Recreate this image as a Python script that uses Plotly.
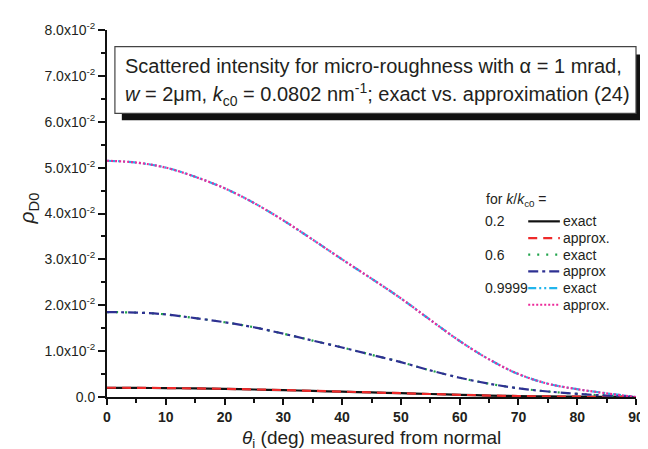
import plotly.graph_objects as go

# ---- data ----
theta_deg = [0, 5, 10, 15, 20, 25, 30, 35, 40, 45, 50, 55, 60, 65, 70, 75, 80, 85, 90]

k02_exact = [0.00200, 0.00198, 0.00194, 0.00186, 0.00177, 0.00164, 0.00150, 0.00133, 0.00116,
             0.00100, 0.00083, 0.00065, 0.00047, 0.00032, 0.00020, 0.00012, 0.00007, 0.00003, 0.0]
k02_approx = [0.00202, 0.00200, 0.00195, 0.00187, 0.00178, 0.00165, 0.00151, 0.00134, 0.00117,
              0.00100, 0.00083, 0.00065, 0.00047, 0.00032, 0.00020, 0.00012, 0.00007, 0.00003, 0.0]

k06_exact = [0.0185, 0.0184, 0.0180, 0.0172, 0.0163, 0.0152, 0.0138, 0.0123, 0.0108,
             0.0092, 0.0076, 0.0058, 0.0042, 0.0029, 0.0019, 0.0012, 0.0007, 0.0003, 0.0]
k06_approx = [0.0185, 0.0184, 0.0180, 0.0172, 0.0163, 0.0152, 0.0138, 0.0123, 0.0108,
              0.0092, 0.0076, 0.0058, 0.0042, 0.0029, 0.0019, 0.0012, 0.0007, 0.0003, 0.0]

k09999_exact = [0.0515, 0.0511, 0.0500, 0.0480, 0.0455, 0.0423, 0.0385, 0.0343, 0.0300,
                0.0258, 0.0215, 0.0168, 0.0122, 0.0082, 0.0050, 0.0029, 0.0017, 0.0008, 0.0]
k09999_approx = [0.0515, 0.0511, 0.0500, 0.0480, 0.0455, 0.0423, 0.0385, 0.0343, 0.0300,
                 0.0258, 0.0215, 0.0168, 0.0122, 0.0082, 0.0050, 0.0029, 0.0017, 0.0008, 0.0]

y_tickvals = [0.0, 0.01, 0.02, 0.03, 0.04, 0.05, 0.06, 0.07, 0.08]
y_ticktext = ["0.0"] + ["%d.0x10<sup>-2</sup>" % i for i in range(1, 9)]
x_tickvals = [0, 10, 20, 30, 40, 50, 60, 70, 80, 90]

legend_groups = ["0.2", "0.6", "0.9999"]
legend_entries = ["exact", "approx.", "exact", "approx", "exact", "approx."]

# ---- styles ----
C_TEXT = "#231f20"
C_BLACK = "#111111"
C_RED = "#ee2a2a"
C_GREEN = "#1fa34a"
C_NAVY = "#2e3192"
C_CYAN = "#22b5ec"
C_PINK = "#ec2a9a"

styles = [
    (k02_exact, C_BLACK, "solid"),
    (k02_approx, C_RED, "9px,6px"),
    (k06_exact, C_GREEN, "2px,7px"),
    (k06_approx, C_NAVY, "10px,4px,3px,4px"),
    (k09999_exact, C_CYAN, "8px,3px,2px,3px,2px,3px"),
    (k09999_approx, C_PINK, "2px,2px"),
]

FONT = "Liberation Sans, Arial, sans-serif"

fig = go.Figure()
# draw exact first, then approx on top
order = [0, 2, 4, 1, 3, 5]
for i in order:
    ys, col, dash = styles[i]
    fig.add_trace(go.Scatter(x=theta_deg, y=ys, mode="lines", line_shape="spline",
                             line=dict(color=col, width=2.2, dash=dash),
                             showlegend=False, hoverinfo="skip"))

W, H = 648, 449
L, R, T, B = 99, 634, 15, 389


def xp(px):
    return (px - L) / (R - L)


def yp(py):
    return (B - py) / (B - T)


fig.update_layout(
    width=W, height=H,
    margin=dict(l=L, r=W - R, t=T, b=H - B, pad=0),
    paper_bgcolor="white", plot_bgcolor="white",
    font=dict(family=FONT, color=C_TEXT),
    xaxis=dict(range=[0, 90], tickvals=x_tickvals, showgrid=False, zeroline=False,
               showline=True, linecolor=C_BLACK, linewidth=2, ticks="outside", ticklen=6,
               tickwidth=1.5, tickcolor=C_BLACK,
               tickfont=dict(size=14, family=FONT, color=C_TEXT, weight="bold"),
               minor=dict(dtick=5, ticks="outside", ticklen=4, tickwidth=1.5, tickcolor=C_BLACK)),
    yaxis=dict(range=[0, 0.08], tickvals=y_tickvals, ticktext=y_ticktext, showgrid=False,
               zeroline=False, showline=True, linecolor=C_BLACK, linewidth=2, ticks="outside",
               ticklen=7, tickwidth=1.5, tickcolor=C_BLACK,
               tickfont=dict(size=14, family=FONT, color=C_TEXT),
               minor=dict(dtick=0.005, ticks="outside", ticklen=4, tickwidth=1.5,
                          tickcolor=C_BLACK)),
)

shapes = []
annotations = []

# axis titles
annotations.append(dict(x=xp(19), y=yp(197), xref="paper", yref="paper",
                        text="<i>ρ</i><sub>D0</sub>", textangle=-90, showarrow=False,
                        font=dict(size=21, family=FONT, color=C_TEXT),
                        xanchor="center", yanchor="middle"))
annotations.append(dict(x=0.5, y=yp(432), xref="paper", yref="paper",
                        text="<i>θ</i><sub>i</sub> (deg) measured from normal", showarrow=False,
                        font=dict(size=19, family=FONT, color=C_TEXT),
                        xanchor="center", yanchor="middle"))

# title box with shadow
shapes.append(dict(type="rect", xref="paper", yref="paper", x0=xp(114), x1=xp(660),
                   y0=yp(107), y1=yp(40), fillcolor=C_BLACK, line=dict(width=0), layer="above"))
shapes.append(dict(type="rect", xref="paper", yref="paper", x0=xp(107), x1=xp(634),
                   y0=yp(100), y1=yp(32), fillcolor="white",
                   line=dict(color="#444444", width=1.2), layer="above"))
annotations.append(dict(x=xp(115), y=yp(52), xref="paper", yref="paper",
                        text="Scattered intensity for micro-roughness with α = 1 mrad,",
                        showarrow=False, xanchor="left", yanchor="middle",
                        font=dict(size=20, family=FONT, color=C_TEXT)))
annotations.append(dict(x=xp(115), y=yp(81), xref="paper", yref="paper",
                        text="<i>w</i> = 2μm, <i>k</i><sub>c0</sub> = 0.0802 nm<sup>-1</sup>; exact vs. approximation (24)",
                        showarrow=False, xanchor="left", yanchor="middle",
                        font=dict(size=20, family=FONT, color=C_TEXT)))

# custom legend
annotations.append(dict(x=xp(480), y=yp(188), xref="paper", yref="paper",
                        text="for <i>k</i>/<i>k</i><sub>c0</sub> =", showarrow=False,
                        xanchor="left", yanchor="middle",
                        font=dict(size=14, family=FONT, color=C_TEXT)))
row_y = [210, 227, 244, 261, 278, 295]
for gi, g in enumerate(legend_groups):
    annotations.append(dict(x=xp(479), y=yp(row_y[2 * gi]), xref="paper", yref="paper",
                            text=g, showarrow=False, xanchor="left", yanchor="middle",
                            font=dict(size=14, family=FONT, color=C_TEXT)))
for ri, txt in enumerate(legend_entries):
    _, col, dash = styles[ri]
    shapes.append(dict(type="line", xref="paper", yref="paper", x0=xp(525), x1=xp(557),
                       y0=yp(row_y[ri]), y1=yp(row_y[ri]), line=dict(color=col, width=2.2, dash=dash)))
    annotations.append(dict(x=xp(558), y=yp(row_y[ri]), xref="paper", yref="paper",
                            text=txt, showarrow=False, xanchor="left", yanchor="middle",
                            font=dict(size=14, family=FONT, color=C_TEXT)))

fig.update_layout(shapes=shapes, annotations=annotations)
fig.write_html("out.html")
